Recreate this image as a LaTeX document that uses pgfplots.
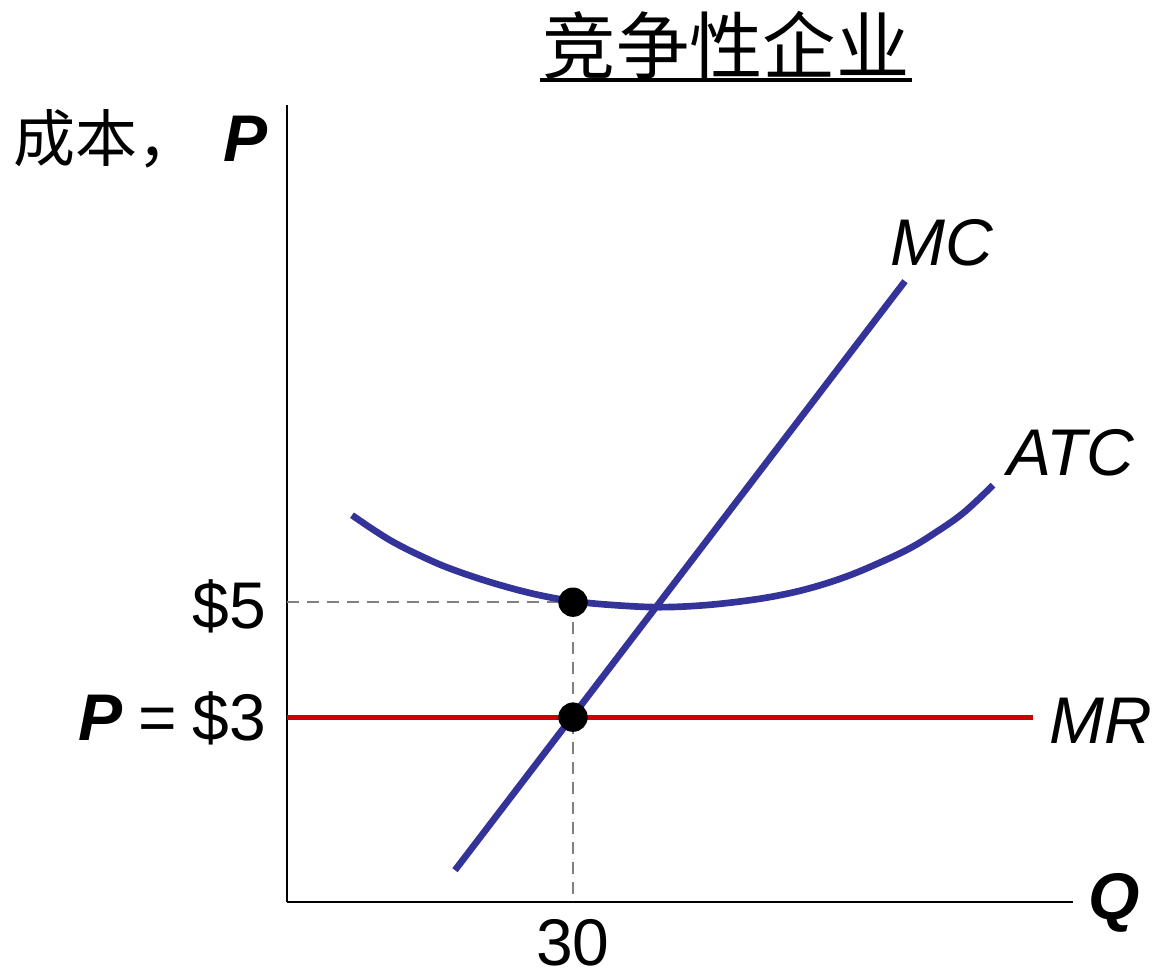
\documentclass[border=0pt]{standalone}
\usepackage{pgfplots}
\pgfplotsset{compat=1.18}
\usepackage{fontspec}
\setmainfont{Liberation Sans}
\newfontfamily\cjk{Noto Sans CJK SC}
\definecolor{mcblue}{RGB}{51,51,153}
\definecolor{mrred}{RGB}{204,0,0}
\newcommand\lab{\fontsize{19.8}{24}\selectfont}
\begin{document}
\begin{tikzpicture}
\begin{axis}[scale only axis, width=235.8pt, height=239.1pt,
  xmin=287, xmax=1073, ymin=73, ymax=870,
  axis x line=bottom, axis y line=left,
  axis line style={-, line width=0.6pt},
  xtick=\empty, ytick=\empty, clip=false]
\path (axis cs:0,0) rectangle (axis cs:1168,973);
% dashed guides
\addplot[gray, line width=0.45pt, dash pattern=on 3.6pt off 2.4pt] coordinates {(287,373) (573,373)};
\addplot[gray, line width=0.45pt, dash pattern=on 3.6pt off 2.4pt] coordinates {(573,373) (573,73)};
% MR
\addplot[mrred, line width=1.6pt] coordinates {(287,258) (1033,258)};
% ATC
\addplot[mcblue, line width=2pt, smooth, tension=0.6] coordinates {(352,460) (390,435) (430,415) (460,403) (497,391) (535,381) (573,374) (615,370) (660,368) (705,370) (750,375) (785,381) (817,389) (850,400) (883,414) (910,427) (933,441) (963,462) (993,490)};
% MC
\addplot[mcblue, line width=2pt] coordinates {(455,105) (905,694)};
% points
\addplot[only marks, mark=*, mark size=4.2pt, black] coordinates {(573,373) (573,258)};
% labels
\node[font=\lab\itshape] at (axis cs:942,732) {MC};
\node[font=\lab\itshape] at (axis cs:1071,522) {ATC};
\node[font=\lab\itshape] at (axis cs:1101,254) {MR};
\node[font=\lab\bfseries\itshape] at (axis cs:1114,72) {Q};
\node[font=\lab] at (axis cs:573,32) {30};
\node[font=\lab, anchor=east, inner sep=0pt] at (axis cs:267,369) {\$5};
\node[font=\lab, anchor=east, inner sep=0pt] at (axis cs:267,257) {\textbf{\textit{P}}\hspace{4.7pt}=\hspace{4.7pt}\$3};
\node[font=\lab\bfseries\itshape, anchor=east, inner sep=0pt] at (axis cs:268,836) {P};
\node[font=\fontsize{18.6}{22}\selectfont\cjk, anchor=west, inner sep=0pt] at (axis cs:13,836) {成本，};
\node[font=\fontsize{22}{26}\selectfont\cjk] at (axis cs:726,930) {竞争性企业};
\draw[line width=1.2pt] (axis cs:540,895) -- (axis cs:912,895);
\end{axis}
\end{tikzpicture}
\end{document}
